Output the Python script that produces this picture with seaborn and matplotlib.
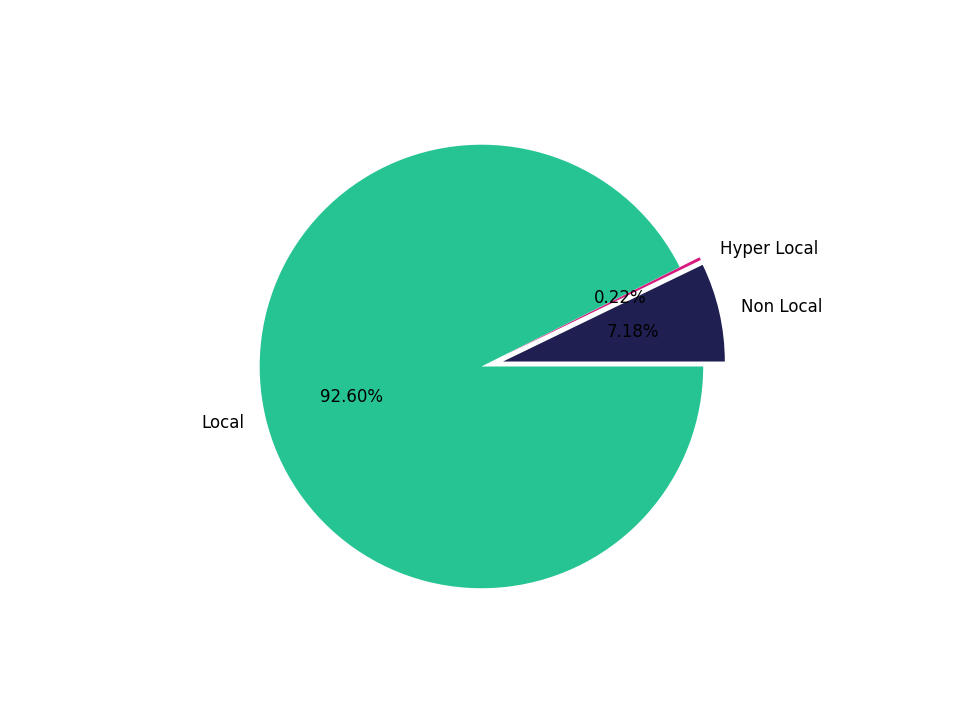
import matplotlib
matplotlib.use('Agg')
import matplotlib.pyplot as plt
import seaborn as sns

# Share of listings by locality type
labels = ["Non Local", "Hyper Local", "Local"]
shares = [7.18, 0.22, 92.60]
explode = [0.1, 0.1, 0.0]
colors = ["#1F1F52", "#D81B7F", "#26C493"]

sns.reset_orig()
plt.rcParams['font.family'] = ['DejaVu Sans']

fig, ax = plt.subplots(figsize=(9.6, 7.2), dpi=100)
ax.pie(shares, labels=labels, explode=explode, colors=colors,
       autopct="%.2f%%", startangle=0, textprops={"fontsize": 12},
       wedgeprops={"linewidth": 0})
fig.subplots_adjust(left=0.114, right=0.889, bottom=0.106, top=0.876)

fig.savefig("out.png", dpi=100)
plt.close(fig)
